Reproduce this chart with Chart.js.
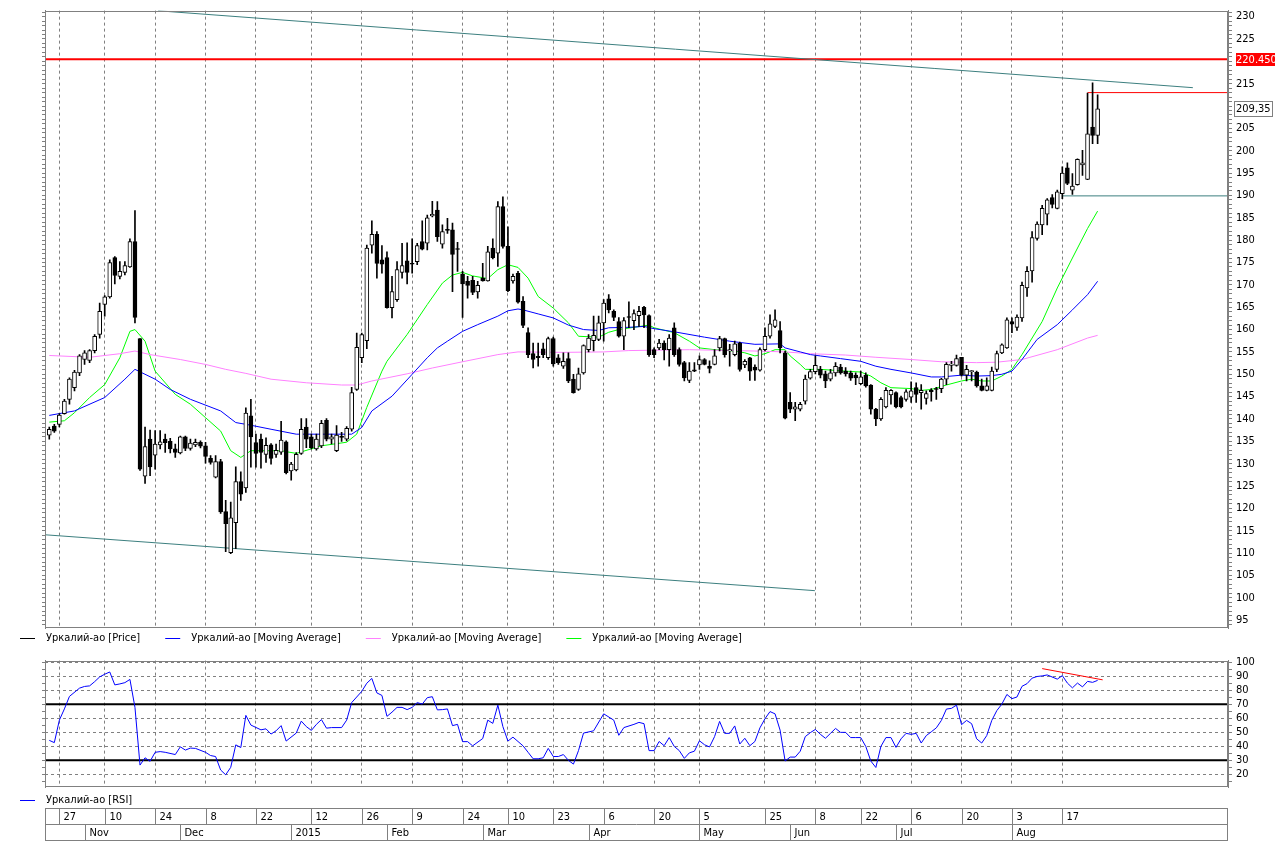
<!DOCTYPE html>
<html>
<head>
<meta charset="utf-8">
<title>Уркалий-ао</title>
<script src="https://cdn.jsdelivr.net/npm/chart.js@4.4.1/dist/chart.umd.min.js"></script>
<style>
  html, body { margin: 0; padding: 0; background: #fff; }
  #wrap { position: relative; width: 1275px; height: 841px; overflow: hidden; background: #fff; }
  #priceBox { position: absolute; left: 0; top: 0; width: 1275px; height: 650px; }
  #rsiBox { position: absolute; left: 0; top: 650px; width: 1275px; height: 191px; }
</style>
</head>
<body>
<div id="wrap">
  <div id="priceBox"><canvas id="priceChart"></canvas></div>
  <div id="rsiBox"><canvas id="rsiChart"></canvas></div>
</div>
<script>
// Eje X: número de sesión (0 = primera vela)
const X_MIN = -0.85;
const X_MAX = 233.87;

const dayTicks = [2, 11, 21, 31, 41, 52, 62, 72, 82, 91, 100, 110, 120, 129, 142, 152, 161, 171, 181, 191, 201];
const dayLabels = ['27', '10', '24', '8', '22', '12', '26', '9', '24', '10', '23', '6', '20', '5', '25', '8', '22', '6', '20', '3', '17'];
const monthTicks = [7, 26, 48, 67, 86, 107, 129, 147, 168, 191];
const monthLabels = ['Nov', 'Dec', '2015', 'Feb', 'Mar', 'Apr', 'May', 'Jun', 'Jul', 'Aug'];

// Velas diarias
const ohlcOpen = [
  136.4,138.4,138.8,141.2,144.4,147.0,150.3,153.3,153.1,155.3,
  158.9,165.6,167.3,176.1,171.9,172.8,174.0,179.7,158.0,127.2,
  135.5,131.9,134.2,135.5,135.0,133.3,132.4,136.0,133.4,134.2,
  134.8,134.0,131.2,127.0,130.5,119.3,110.1,116.8,126.0,124.6,
  140.7,134.7,135.5,132.1,134.2,132.1,132.6,134.9,128.4,128.6,
  132.3,138.2,136.0,133.3,134.0,139.7,135.5,132.9,136.1,135.5,
  137.7,146.6,153.7,157.5,178.9,181.3,175.6,176.1,164.9,166.7,
  172.8,175.4,174.7,175.2,179.7,179.3,185.4,186.7,179.1,182.3,
  182.3,178.0,172.4,170.8,171.0,168.4,171.5,170.9,178.2,177.1,
  187.5,178.6,170.9,172.6,166.3,159.3,154.6,154.0,155.7,153.7,
  158.0,153.7,151.8,153.5,148.9,146.6,150.3,155.5,157.5,157.8,
  161.5,166.9,164.1,161.8,158.5,162.8,162.0,163.1,165.0,163.1,
  155.5,155.9,157.0,155.5,160.4,155.5,152.6,148.6,151.0,152.1,
  153.3,151.8,152.2,155.9,158.0,155.2,154.4,157.0,152.1,153.7,
  151.6,150.9,155.5,158.5,160.7,159.8,154.8,143.7,142.2,142.2,
  144.0,149.1,150.6,151.1,150.1,148.9,150.3,151.6,150.7,150.3,
  149.8,147.9,149.8,147.6,142.2,140.0,142.7,145.4,145.9,144.8,
  144.4,144.9,147.0,145.9,144.6,146.4,146.8,146.8,148.9,152.0,
  152.0,153.8,149.8,150.6,150.5,147.4,146.4,146.4,151.1,154.8,
  155.9,161.8,160.5,162.6,169.3,173.1,180.4,183.4,185.8,189.5,
  187.1,190.4,196.2,191.2,192.4,196.8,193.6,205.3,203.4
];
const ohlcHigh = [
  138.2,138.8,141.2,144.4,149.2,150.9,154.4,155.3,155.5,158.9,
  165.9,167.6,175.6,176.3,175.2,175.2,180.3,186.6,158.0,138.2,
  137.5,137.4,137.4,136.6,135.7,134.4,136.2,136.2,135.5,135.5,
  135.1,134.8,131.8,131.8,131.0,121.8,121.4,129.3,128.2,142.5,
  144.4,136.6,136.6,135.8,134.5,134.4,139.5,135.1,130.3,132.5,
  140.1,140.1,136.6,136.6,139.7,140.1,136.6,138.5,137.0,138.3,
  147.1,159.2,159.2,178.9,184.3,181.9,178.8,177.4,171.9,175.2,
  179.3,179.4,180.3,179.3,184.3,185.6,188.7,188.6,183.4,184.9,
  183.8,179.5,173.0,171.9,171.9,170.8,174.8,178.6,180.3,188.6,
  189.7,183.0,172.4,173.0,167.4,160.4,157.0,157.0,157.0,158.3,
  158.3,154.4,154.8,154.8,150.0,151.4,156.6,158.9,163.0,163.0,
  166.7,167.8,164.4,162.7,162.7,166.2,164.4,165.2,165.2,163.3,
  155.9,157.8,157.5,158.9,161.5,155.9,152.9,152.6,152.6,154.1,
  153.5,153.0,155.5,158.5,158.1,156.7,157.4,157.2,153.3,153.8,
  152.1,155.9,160.4,163.3,164.4,161.8,155.2,145.9,143.7,143.7,
  149.8,151.1,154.1,151.8,150.7,151.1,152.6,152.2,151.5,150.7,
  150.3,150.7,150.3,147.7,142.4,144.8,147.0,146.6,146.1,145.1,
  146.6,148.3,148.1,147.7,146.3,146.8,147.1,149.1,152.6,152.9,
  154.3,153.8,152.0,150.9,150.7,148.9,149.2,151.6,155.2,156.8,
  162.6,162.6,163.3,170.6,174.1,181.9,184.1,187.8,189.3,190.2,
  191.2,196.4,197.3,194.9,198.2,200.1,212.9,215.2,212.5
];
const ohlcLow = [
  135.5,137.0,138.2,141.1,143.3,146.3,149.7,152.2,152.6,154.8,
  158.1,163.0,167.0,170.2,171.3,172.2,173.9,161.5,128.5,125.6,
  127.3,128.8,133.3,132.5,132.4,131.4,132.2,132.9,133.0,133.8,
  133.5,130.1,129.9,126.8,118.9,110.3,109.9,111.0,121.8,123.6,
  129.2,129.2,129.0,130.3,129.9,131.4,132.1,127.7,126.3,128.4,
  132.1,133.6,133.3,133.0,133.6,135.1,134.4,132.7,135.0,135.1,
  137.3,146.4,152.6,155.7,177.1,171.5,172.6,164.8,162.6,166.3,
  171.5,170.2,172.6,174.5,177.8,177.8,185.2,179.7,178.2,181.5,
  168.5,173.0,162.7,167.0,167.8,167.0,170.8,170.8,175.8,174.1,
  178.2,168.5,170.4,165.9,160.4,153.7,151.4,151.8,153.7,153.3,
  151.8,152.2,151.3,148.1,145.8,146.4,150.0,155.0,155.2,157.5,
  157.4,163.7,162.0,158.3,155.5,160.4,160.0,160.7,160.4,154.0,
  153.7,155.5,153.2,151.8,154.0,151.8,148.5,148.1,150.6,151.1,
  152.1,150.3,152.1,155.2,153.8,151.8,154.1,150.7,151.5,148.6,
  148.6,150.7,155.2,158.1,160.4,154.8,140.0,141.4,139.6,141.8,
  143.3,148.9,150.1,149.2,147.0,148.5,149.6,150.0,149.6,148.6,
  147.7,147.7,147.1,141.1,138.5,139.7,142.5,143.3,142.5,142.5,
  144.0,143.7,143.7,142.2,143.3,144.0,144.4,145.9,147.7,150.7,
  151.8,149.6,148.5,148.5,147.1,146.3,146.3,146.3,150.6,154.6,
  155.8,159.3,159.8,161.8,167.4,170.6,180.0,181.2,183.4,187.2,
  187.0,189.3,192.4,190.2,192.3,194.5,193.5,201.6,201.6
];
const ohlcClose = [
  137.7,137.3,140.9,144.0,148.9,150.5,154.1,154.8,155.3,158.5,
  164.1,167.3,175.0,172.1,173.0,174.3,179.7,162.7,128.8,133.8,
  129.3,134.4,134.9,134.7,133.3,132.5,136.0,133.4,134.6,134.8,
  133.9,131.6,130.3,130.5,119.2,116.6,117.9,126.0,123.2,141.3,
  136.0,132.3,132.5,134.1,131.2,133.0,135.3,128.0,129.9,132.1,
  137.7,135.5,133.6,135.5,139.0,135.5,136.0,136.4,135.9,137.9,
  145.9,156.0,158.9,178.2,181.3,174.8,174.6,164.9,168.5,173.4,
  174.3,172.8,174.6,178.8,178.0,185.0,185.8,180.8,181.9,182.2,
  176.8,177.9,170.2,169.9,168.3,169.9,170.9,177.4,176.1,187.5,
  178.6,168.7,171.9,166.1,160.9,154.4,153.3,153.7,154.4,158.0,
  152.3,152.6,152.9,148.5,145.9,150.1,156.4,158.1,158.7,161.5,
  165.9,164.4,162.7,158.5,162.0,162.7,163.6,164.1,163.3,154.4,
  154.4,157.0,155.5,158.1,154.4,152.2,149.2,150.7,150.7,153.3,
  152.2,151.3,154.1,158.0,154.4,155.5,156.8,151.1,152.9,150.7,
  150.9,155.5,158.5,161.3,162.2,155.9,140.2,142.2,142.7,143.3,
  148.9,150.6,152.0,149.8,148.5,150.3,151.8,150.3,150.1,149.1,
  149.2,149.4,147.4,142.2,140.0,144.4,146.4,146.4,142.7,142.7,
  146.1,146.3,145.5,146.4,145.7,146.1,146.6,148.9,152.2,152.3,
  153.5,149.8,151.1,150.8,147.4,146.4,147.4,150.7,154.6,156.6,
  162.2,161.2,162.8,169.9,173.0,180.6,183.6,187.1,189.0,188.0,
  190.8,195.0,192.7,192.1,198.1,197.3,203.8,203.4,209.35
];

// Medias móviles: [sesión, valor]
const maBlue = [[0,140.8],[5,141.8],[11,144.8],[15,148.9],[17,151.1],[21,148.9],[24,146.6],[28,144.4],[34,141.8],[37,139.2],[40,138.6],[44,137.7],[49,136.6],[54,136.6],[60,136.6],[62,138.1],[64,141.8],[68,145.1],[72,150.0],[75,153.7],[77,155.9],[79,157.4],[82,159.6],[85,161.1],[89,163.0],[91,164.2],[93,164.6],[94,164.4],[97,163.5],[100,162.6],[103,161.0],[106,160.0],[109,159.8],[111,160.4],[115,160.5],[118,160.7],[120,160.2],[124,159.5],[130,158.3],[135,157.4],[140,156.7],[145,156.8],[146,155.9],[149,155.0],[151,154.4],[153,154.1],[157,153.5],[161,152.9],[164,151.8],[167,151.1],[171,150.3],[175,149.4],[177,149.4],[181,149.8],[184,149.6],[187,149.7],[189,150.0],[191,150.7],[193,153.3],[196,157.8],[200,161.1],[203,164.4],[206,167.8],[208,170.8]];
const maPink = [[0,154.2],[8,153.8],[14,154.6],[17,155.2],[20,154.4],[26,153.3],[31,152.2],[35,151.1],[39,150.2],[44,148.9],[51,148.1],[58,147.6],[61,147.6],[64,148.5],[71,150.1],[76,151.4],[82,152.8],[89,154.4],[93,155.0],[102,154.9],[110,155.0],[115,155.3],[127,155.5],[140,155.2],[146,155.0],[151,154.6],[158,154.3],[164,153.8],[171,153.3],[177,152.8],[184,152.6],[188,152.7],[193,153.3],[200,155.5],[206,158.1],[208,158.7]];
const maGreen = [[0,139.3],[3,139.6],[5,141.4],[8,144.8],[11,147.7],[14,153.7],[16,159.6],[17,160.0],[19,157.4],[21,150.7],[25,145.5],[28,143.3],[31,140.3],[34,137.3],[36,132.9],[38,131.4],[40,132.9],[46,132.9],[49,132.3],[54,134.0],[59,134.8],[61,136.6],[63,142.6],[66,150.7],[67,152.9],[71,158.9],[75,165.6],[78,170.4],[80,172.2],[82,172.8],[84,172.0],[87,171.4],[89,173.4],[91,174.5],[93,173.9],[95,171.5],[97,167.4],[100,164.8],[103,161.5],[105,158.5],[109,158.3],[111,159.4],[113,160.0],[116,160.5],[119,161.0],[120,160.4],[124,159.3],[127,157.4],[129,155.9],[132,155.5],[136,155.2],[138,154.8],[140,154.1],[142,154.6],[144,155.5],[146,155.5],[147,154.1],[149,152.2],[150,151.1],[153,151.1],[158,150.7],[161,150.5],[163,149.6],[165,148.1],[167,147.0],[171,146.8],[173,146.4],[175,146.6],[178,147.6],[181,148.5],[183,148.9],[185,148.5],[187,148.5],[189,149.6],[191,151.1],[193,154.4],[197,161.8],[200,169.3],[203,176.0],[206,182.6],[208,186.5]];

// Líneas dibujadas a mano en el original
const upperTrend = [[21.6,231.3],[226.9,214.1]];
const lowerTrend = [[-0.85,114.1],[151.9,101.6]];
const RED_LEVEL = 220.45;
const resistStart = 206, resistLevel = 213.0;
const supportStart = 201, supportLevel = 189.9;

// RSI
const rsiPoints = [[0,44.2],[1,42.6],[2,58.6],[3,66.6],[4,75.5],[6,81.4],[7,82.6],[8,83.0],[9,86.0],[10,89.4],[11,91.3],[12,92.9],[13,83.7],[14,84.4],[15,85.3],[16,87.6],[17,67.7],[18,26.6],[19,31.8],[20,29.3],[21,35.7],[22,36.2],[23,35.7],[25,34.1],[26,39.6],[27,37.3],[28,38.7],[29,38.5],[31,35.7],[32,33.4],[33,32.7],[34,23.1],[35,19.7],[36,25.0],[37,41.0],[38,39.1],[39,62.0],[40,55.1],[42,51.7],[43,52.4],[44,48.7],[45,51.0],[46,54.7],[47,43.7],[49,49.4],[50,57.9],[51,54.0],[52,51.3],[53,55.6],[54,59.0],[55,52.9],[56,53.3],[58,53.3],[59,58.6],[60,71.1],[62,79.1],[63,84.9],[64,88.3],[65,78.0],[66,76.2],[67,61.3],[68,64.3],[69,67.7],[70,67.7],[71,66.1],[72,67.7],[73,71.1],[74,70.0],[75,74.6],[76,75.3],[77,65.9],[78,66.1],[79,66.6],[80,54.7],[81,55.6],[82,43.3],[83,43.3],[84,40.3],[86,45.5],[87,58.6],[88,56.3],[89,69.3],[90,54.0],[91,43.7],[92,46.5],[94,40.3],[95,35.7],[96,31.1],[97,31.1],[98,31.8],[99,38.5],[100,32.7],[101,32.7],[102,34.1],[103,30.0],[104,27.3],[105,36.9],[106,49.4],[108,51.0],[110,63.1],[112,58.6],[113,47.8],[114,53.3],[116,55.6],[117,57.0],[118,56.1],[119,36.9],[120,36.9],[121,43.4],[122,40.4],[123,46.2],[124,39.9],[125,36.9],[126,31.4],[127,35.3],[128,36.5],[129,43.9],[130,41.1],[131,39.5],[132,46.9],[133,57.7],[134,49.2],[135,49.2],[136,54.5],[137,41.6],[138,45.7],[139,40.4],[140,43.4],[141,53.1],[142,59.6],[143,64.7],[144,63.1],[145,51.5],[146,29.5],[147,32.3],[148,32.3],[149,36.5],[150,46.9],[151,49.7],[152,52.0],[153,48.5],[154,45.7],[155,49.2],[156,52.7],[157,49.9],[158,49.9],[159,46.2],[160,46.2],[161,46.2],[162,39.9],[163,29.5],[164,24.9],[165,39.9],[166,46.2],[167,46.2],[168,39.2],[169,45.3],[170,49.2],[171,48.5],[172,49.2],[173,42.3],[174,47.6],[175,50.3],[176,53.1],[177,58.4],[178,66.5],[179,67.0],[180,69.3],[181,55.4],[182,58.4],[183,56.1],[184,45.3],[185,42.3],[186,47.6],[187,58.4],[188,65.4],[189,70.0],[190,76.9],[191,73.9],[192,75.1],[193,82.7],[194,84.6],[195,88.5],[196,89.7],[197,90.1],[198,90.8],[200,87.8],[201,90.3],[202,85.0],[203,81.6],[204,85.0],[205,82.3],[206,86.2],[207,85.5],[208,86.9]];
const rsiTrend = [[197,95.3],[209,87.3]];
const rsiLevels = [70, 30];

const PRICE_MIN = 93.25, PRICE_MAX = 231.34;
const RSI_MIN = 11, RSI_MAX = 101;

const FONT = '"Liberation Sans Narrow", "DejaVu Sans Condensed", "Liberation Sans", sans-serif';
const FONT_SIZE = 11;
Chart.defaults.font.family = FONT;
Chart.defaults.font.size = FONT_SIZE;
Chart.defaults.color = '#000';

const pts = arr => arr.map(([x, y]) => ({x, y}));
const range = (a, b, step) => { const out = []; for (let v = a; v <= b; v += step) out.push({value: v}); return out; };

// Marco gris alrededor del área de trazado
const framePlugin = {
  id: 'frame',
  afterDraw(chart) {
    const {ctx, chartArea: a} = chart;
    ctx.save();
    ctx.strokeStyle = '#808080';
    ctx.lineWidth = 1;
    ctx.strokeRect(Math.round(a.left) + 0.5, Math.round(a.top) + 0.5,
      Math.round(a.right - a.left) - 1, Math.round(a.bottom - a.top) - 1);
    ctx.restore();
  }
};

// Leyenda en una fila, bajo el panel
const rowLegend = {
  id: 'rowLegend',
  afterDraw(chart, args, opts) {
    const ctx = chart.ctx;
    const y = Math.round(chart.chartArea.bottom + opts.offset) + 0.5;
    let x = 20;
    ctx.save();
    ctx.font = FONT_SIZE + 'px ' + FONT;
    ctx.textBaseline = 'middle';
    chart.data.datasets.forEach(ds => {
      if (!ds.legendText) return;
      ctx.strokeStyle = ds.legendColor || ds.borderColor;
      ctx.lineWidth = 1;
      ctx.beginPath();
      ctx.moveTo(x, y);
      ctx.lineTo(x + 15, y);
      ctx.stroke();
      ctx.fillStyle = '#000';
      ctx.fillText(ds.legendText, x + 26, y);
      x += 26 + ctx.measureText(ds.legendText).width + 25;
    });
    ctx.restore();
  }
};

// Etiquetas de valor en el eje derecho
const tagPlugin = {
  id: 'tags',
  afterDraw(chart) {
    const {ctx, chartArea: a, scales: {y}} = chart;
    ctx.save();
    ctx.font = FONT_SIZE + 'px ' + FONT;
    ctx.textBaseline = 'middle';
    const yr = y.getPixelForValue(RED_LEVEL);
    ctx.fillStyle = '#ff0000';
    ctx.fillRect(a.right + 8, Math.round(yr) - 6, 47, 13);
    ctx.fillStyle = '#fff';
    ctx.fillText(RED_LEVEL.toFixed(3), a.right + 8, yr + 0.5);
    const last = ohlcClose[ohlcClose.length - 1];
    const yl = y.getPixelForValue(last);
    const txt = last.toFixed(2).replace('.', ',');
    const w = Math.ceil(ctx.measureText(txt).width) + 4;
    ctx.fillStyle = '#fff';
    ctx.fillRect(a.right + 6, Math.round(yl) - 8, w, 16);
    ctx.strokeStyle = '#808080';
    ctx.strokeRect(a.right + 6.5, Math.round(yl) - 7.5, w - 1, 15);
    ctx.fillStyle = '#000';
    ctx.fillText(txt, a.right + 8, yl + 0.5);
    ctx.restore();
  }
};

// Franja de fechas (días y meses)
const dateStrip = {
  id: 'dateStrip',
  afterDraw(chart) {
    const {ctx, chartArea: a, scales: {x}} = chart;
    const top = Math.round(a.bottom) + 21.5, mid = top + 16, bot = top + 32;
    const left = Math.round(a.left) + 0.5, right = Math.round(a.right) - 0.5;
    ctx.save();
    ctx.strokeStyle = '#808080';
    ctx.lineWidth = 1;
    ctx.strokeRect(left, top, right - left, bot - top);
    ctx.beginPath();
    ctx.moveTo(left, mid);
    ctx.lineTo(right, mid);
    ctx.stroke();
    ctx.font = FONT_SIZE + 'px ' + FONT;
    ctx.fillStyle = '#000';
    ctx.textBaseline = 'middle';
    dayTicks.forEach((v, i) => {
      const px = Math.round(x.getPixelForValue(v)) + 0.5;
      ctx.beginPath(); ctx.moveTo(px, top); ctx.lineTo(px, mid); ctx.stroke();
      ctx.fillText(dayLabels[i], px + 4, (top + mid) / 2 + 1);
    });
    monthTicks.forEach((v, i) => {
      const px = Math.round(x.getPixelForValue(v)) + 0.5;
      ctx.beginPath(); ctx.moveTo(px, mid); ctx.lineTo(px, bot); ctx.stroke();
      ctx.fillText(monthLabels[i], px + 4, (mid + bot) / 2 + 1);
    });
    ctx.restore();
  }
};

const xAxis = {
  type: 'linear', min: X_MIN, max: X_MAX, offset: false,
  afterBuildTicks: s => { s.ticks = dayTicks.map(v => ({value: v})); },
  afterFit: s => { s.height = 0; },
  ticks: { display: false },
  grid: { color: '#808080', drawTicks: false, offset: false },
  border: { display: false, dash: [3, 3] }
};

// ---------- Panel de precio ----------
const idx = ohlcOpen.map((_, i) => i);
const upIdx = idx.filter(i => ohlcClose[i] >= ohlcOpen[i]);
const downIdx = idx.filter(i => ohlcClose[i] < ohlcOpen[i]);
const lineStyle = { type: 'line', pointRadius: 0, borderWidth: 1, fill: false, tension: 0 };

new Chart(document.getElementById('priceChart'), {
  type: 'bar',
  data: {
    datasets: [
      { label: 'wicks', legendText: 'Уркалий-ао [Price]', legendColor: '#000',
        data: idx.map(i => ({x: i, y: [ohlcLow[i], ohlcHigh[i]]})),
        backgroundColor: '#000', barThickness: 1, grouped: false, order: 1 },
      { label: 'up',
        data: upIdx.map(i => ({x: i, y: [ohlcOpen[i], ohlcClose[i]]})),
        backgroundColor: '#fff', borderColor: '#000', borderWidth: 1, borderSkipped: false,
        barThickness: 4, minBarLength: 1, grouped: false, order: 0 },
      { label: 'down',
        data: downIdx.map(i => ({x: i, y: [ohlcClose[i], ohlcOpen[i]]})),
        backgroundColor: '#000', borderColor: '#000', borderWidth: 1, borderSkipped: false,
        barThickness: 4, minBarLength: 1, grouped: false, order: 0 },
      { ...lineStyle, legendText: 'Уркалий-ао [Moving Average]', data: pts(maBlue), borderColor: '#0000ff', order: 2 },
      { ...lineStyle, legendText: 'Уркалий-ао [Moving Average]', data: pts(maPink), borderColor: '#ff80ff', order: 2 },
      { ...lineStyle, legendText: 'Уркалий-ао [Moving Average]', data: pts(maGreen), borderColor: '#00ff00', order: 2 },
      { ...lineStyle, data: pts(upperTrend), borderColor: '#3c7f7f', order: 3 },
      { ...lineStyle, data: pts(lowerTrend), borderColor: '#3c7f7f', order: 3 },
      { ...lineStyle, data: pts([[X_MIN, RED_LEVEL], [X_MAX, RED_LEVEL]]), borderColor: '#ff0000', borderWidth: 2, order: 3 },
      { ...lineStyle, data: pts([[resistStart, resistLevel], [X_MAX, resistLevel]]), borderColor: '#ff0000', order: 3 },
      { ...lineStyle, data: pts([[supportStart, supportLevel], [X_MAX, supportLevel]]), borderColor: '#3c7f7f', order: 3 }
    ]
  },
  options: {
    responsive: true,
    maintainAspectRatio: false,
    animation: false,
    events: [],
    layout: { padding: { top: 8, bottom: 22, left: 0, right: 0 } },
    plugins: { legend: { display: false }, tooltip: { enabled: false }, rowLegend: { offset: 10 } },
    scales: {
      x: xAxis,
      y: {
        position: 'right', min: PRICE_MIN, max: PRICE_MAX,
        afterBuildTicks: s => { s.ticks = range(94, 231, 1); },
        afterFit: s => { s.width = 47; },
        ticks: { autoSkip: false, padding: 4, callback: v => (v % 5 === 0 ? String(v) : '') },
        grid: { drawOnChartArea: false, tickLength: 4, tickColor: '#808080' },
        border: { color: '#808080' }
      },
      yl: {
        position: 'left', min: PRICE_MIN, max: PRICE_MAX,
        afterBuildTicks: s => { s.ticks = range(94, 231, 1); },
        afterFit: s => { s.width = 45; },
        ticks: { display: false },
        grid: { drawOnChartArea: false, tickLength: 3, tickColor: '#808080' },
        border: { color: '#808080' }
      }
    }
  },
  plugins: [framePlugin, rowLegend, tagPlugin]
});

// ---------- Panel RSI ----------
new Chart(document.getElementById('rsiChart'), {
  type: 'line',
  data: {
    datasets: [
      { ...lineStyle, legendText: 'Уркалий-ао [RSI]', data: pts(rsiPoints), borderColor: '#0000ff', order: 1 },
      ...rsiLevels.map(v => ({ ...lineStyle, data: pts([[X_MIN, v], [X_MAX, v]]), borderColor: '#000', borderWidth: 2, order: 2 })),
      { ...lineStyle, data: pts(rsiTrend), borderColor: '#ff0000', order: 0 }
    ]
  },
  options: {
    responsive: true,
    maintainAspectRatio: false,
    animation: false,
    events: [],
    layout: { padding: { top: 7, bottom: 54, left: 0, right: 0 } },
    plugins: { legend: { display: false }, tooltip: { enabled: false }, rowLegend: { offset: 13 } },
    scales: {
      x: xAxis,
      y: {
        position: 'right', min: RSI_MIN, max: RSI_MAX,
        afterBuildTicks: s => { s.ticks = range(15, 100, 5); },
        afterFit: s => { s.width = 47; },
        ticks: { autoSkip: false, padding: 4, callback: v => (v % 10 === 0 && v >= 20 ? String(v) : '') },
        grid: {
          color: c => (c.tick && c.tick.value % 10 === 0 ? '#808080' : 'rgba(0,0,0,0)'),
          tickColor: '#808080', tickLength: 4
        },
        border: { color: '#808080', dash: [3, 3] }
      },
      yl: {
        position: 'left', min: RSI_MIN, max: RSI_MAX,
        afterBuildTicks: s => { s.ticks = range(15, 100, 5); },
        afterFit: s => { s.width = 45; },
        ticks: { display: false },
        grid: { drawOnChartArea: false, tickLength: 3, tickColor: '#808080' },
        border: { color: '#808080' }
      }
    }
  },
  plugins: [framePlugin, rowLegend, dateStrip]
});
</script>
</body>
</html>
